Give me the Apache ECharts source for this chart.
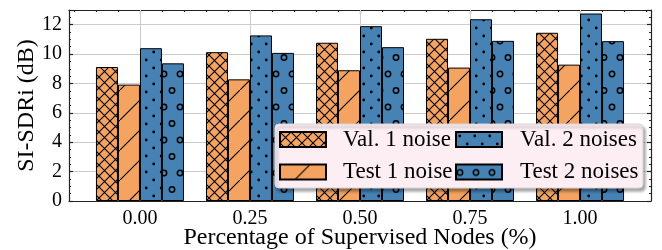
<!DOCTYPE html>
<html>
<head>
<meta charset="utf-8">
<script src="https://cdn.jsdelivr.net/npm/echarts@6/dist/echarts.min.js"></script>
<style>
  html, body { margin: 0; padding: 0; background: #fff; }
  #chart { width: 662px; height: 250px; }
</style>
</head>
<body>
<div id="chart"></div>
<script>
var categories = ['0.00', '0.25', '0.50', '0.75', '1.00'];
var val1Noise = [9.12, 10.13, 10.77, 11.04, 11.45];
var test1Noise = [7.92, 8.28, 8.9, 9.08, 9.28];
var val2Noises = [10.4, 11.27, 11.9, 12.37, 12.76];
var test2Noises = [9.37, 10.08, 10.47, 10.9, 10.88];
var majorX = [0, 1, 2, 3, 4];
var minorX = [-0.6, -0.4, -0.2, 0.2, 0.4, 0.6, 0.8, 1.2, 1.4, 1.6, 1.8, 2.2, 2.4, 2.6, 2.8, 3.2, 3.4, 3.6, 3.8, 4.2, 4.4, 4.6];

var ORANGE = '#f4a460';
var BLUE = '#4682b4';
var FONT = 'Liberation Serif';

// hatch fills, drawn on small canvases
function pattern(bg, w, h, draw) {
  var c = document.createElement('canvas');
  c.width = w; c.height = h;
  var ctx = c.getContext('2d');
  ctx.fillStyle = bg;
  ctx.fillRect(0, 0, w, h);
  ctx.strokeStyle = '#000';
  ctx.fillStyle = '#000';
  draw(ctx, w, h);
  return { image: c, repeat: 'repeat' };
}
var crossFill = pattern(ORANGE, 11, 11, function (ctx, w, h) {
  ctx.lineWidth = 1.1;
  ctx.beginPath();
  ctx.moveTo(-1, -1); ctx.lineTo(w + 1, h + 1);
  ctx.moveTo(-1, h + 1); ctx.lineTo(w + 1, -1);
  ctx.stroke();
});
var slashFill = pattern(ORANGE, 30, 30, function (ctx, w, h) {
  ctx.lineWidth = 1.1;
  ctx.beginPath();
  ctx.moveTo(-1, h + 1); ctx.lineTo(w + 1, -1);
  ctx.stroke();
});
var dotFill = pattern(BLUE, 15, 16, function (ctx) {
  ctx.beginPath(); ctx.arc(3.75, 4, 1.4, 0, Math.PI * 2); ctx.fill();
  ctx.beginPath(); ctx.arc(11.25, 12, 1.4, 0, Math.PI * 2); ctx.fill();
});
var ringFill = pattern(BLUE, 16, 33, function (ctx) {
  ctx.lineWidth = 1.5;
  ctx.beginPath(); ctx.arc(4, 8, 2.7, 0, Math.PI * 2); ctx.stroke();
  ctx.beginPath(); ctx.arc(12, 24.5, 2.7, 0, Math.PI * 2); ctx.stroke();
});

function pairs(vals) {
  return vals.map(function (v, i) { return [i, v]; });
}
function barSeries(name, vals, fill) {
  return {
    name: name,
    type: 'bar',
    data: pairs(vals),
    barWidth: 22,
    barGap: '0%',
    z: 3,
    itemStyle: { color: fill, borderColor: '#000', borderWidth: 1 }
  };
}

var chart = echarts.init(document.getElementById('chart'), null, { renderer: 'canvas' });

var xCommon = { type: 'value', min: -0.645, max: 4.645 };
var lineStyle = { color: '#222', width: 1.2 };
var gridColor = '#cccccc';

var option = {
  animation: false,
  grid: { left: 69, right: 11, top: 10, bottom: 49, outerBoundsMode: 'none', containLabel: false },
  xAxis: [
    Object.assign({}, xCommon, {
      position: 'bottom',
      name: 'Percentage of Supervised Nodes (%)',
      nameLocation: 'middle',
      nameGap: 25,
      nameMoveOverlap: false,
      nameTextStyle: { fontFamily: FONT, fontSize: 24, color: '#000' },
      axisLine: { show: true, onZero: false, lineStyle: lineStyle },
      axisTick: { show: true, inside: true, length: 4, customValues: majorX, lineStyle: lineStyle },
      axisLabel: {
        customValues: majorX, margin: 8,
        fontFamily: FONT, fontSize: 20, color: '#000',
        formatter: function (v) { return categories[Math.round(v)]; }
      },
      splitLine: { show: false }
    }),
    Object.assign({}, xCommon, {
      position: 'top',
      axisLine: { show: true, onZero: false, lineStyle: lineStyle },
      axisTick: { show: true, inside: true, length: 4, customValues: majorX, lineStyle: lineStyle },
      axisLabel: { show: false },
      splitLine: { show: false }
    }),
    Object.assign({}, xCommon, {
      position: 'top',
      axisLine: { show: false, onZero: false },
      axisTick: { show: true, inside: true, length: 2, customValues: minorX, lineStyle: lineStyle },
      axisLabel: { show: false },
      splitLine: { show: false }
    })
  ],
  yAxis: [
    {
      type: 'value', min: 0, max: 13, interval: 2,
      name: 'SI-SDRi (dB)',
      nameLocation: 'middle',
      nameGap: 30,
      nameMoveOverlap: false,
      nameTextStyle: { fontFamily: FONT, fontSize: 24, color: '#000' },
      axisLine: { show: true, onZero: false, lineStyle: lineStyle },
      axisTick: { show: true, inside: true, length: 4, lineStyle: lineStyle },
      minorTick: { show: true, splitNumber: 4, length: 2, lineStyle: lineStyle },
      axisLabel: { margin: 7, fontFamily: FONT, fontSize: 20, color: '#000', showMaxLabel: false },
      splitLine: { show: true, lineStyle: { color: gridColor, width: 1 } }
    },
    {
      type: 'value', min: 0, max: 13, interval: 2, position: 'right',
      axisLine: { show: true, onZero: false, lineStyle: lineStyle },
      axisTick: { show: true, inside: true, length: 4, lineStyle: lineStyle },
      minorTick: { show: true, splitNumber: 4, length: 2, lineStyle: lineStyle },
      axisLabel: { show: false },
      splitLine: { show: false }
    }
  ],
  legend: [
    {
      data: ['Val. 1 noise', 'Test 1 noise'],
      orient: 'vertical', left: 279, top: 128, icon: 'rect',
      itemWidth: 46, itemHeight: 15, itemGap: 9.5, padding: 0,
      selectedMode: false, z: 20,
      textStyle: { fontFamily: FONT, fontSize: 23, color: '#000', padding: [0, 0, 0, 12] }
    },
    {
      data: ['Val. 2 noises', 'Test 2 noises'],
      orient: 'vertical', left: 455, top: 128, icon: 'rect',
      itemWidth: 46, itemHeight: 15, itemGap: 9.5, padding: 0,
      selectedMode: false, z: 20,
      textStyle: { fontFamily: FONT, fontSize: 23, color: '#000', padding: [0, 0, 0, 13] }
    }
  ],
  graphic: {
    elements: [{
      type: 'rect', z: 10,
      shape: { x: 275, y: 124, width: 368, height: 64, r: 4 },
      style: {
        fill: '#fdeef3', stroke: '#d6d6d6', lineWidth: 1,
        shadowBlur: 3, shadowOffsetX: 2, shadowOffsetY: 3, shadowColor: 'rgba(0,0,0,0.35)'
      }
    }]
  },
  series: [
    {
      // vertical grid lines at the category positions, kept behind the bars
      name: 'grid',
      type: 'line',
      data: [],
      z: 1,
      silent: true,
      markLine: {
        z: 1,
        silent: true,
        symbol: ['none', 'none'],
        label: { show: false },
        lineStyle: { color: gridColor, width: 1, type: 'solid' },
        data: majorX.map(function (v) { return { xAxis: v }; })
      }
    },
    barSeries('Val. 1 noise', val1Noise, crossFill),
    barSeries('Test 1 noise', test1Noise, slashFill),
    barSeries('Val. 2 noises', val2Noises, dotFill),
    barSeries('Test 2 noises', test2Noises, ringFill)
  ]
};

chart.setOption(option);
</script>
</body>
</html>
